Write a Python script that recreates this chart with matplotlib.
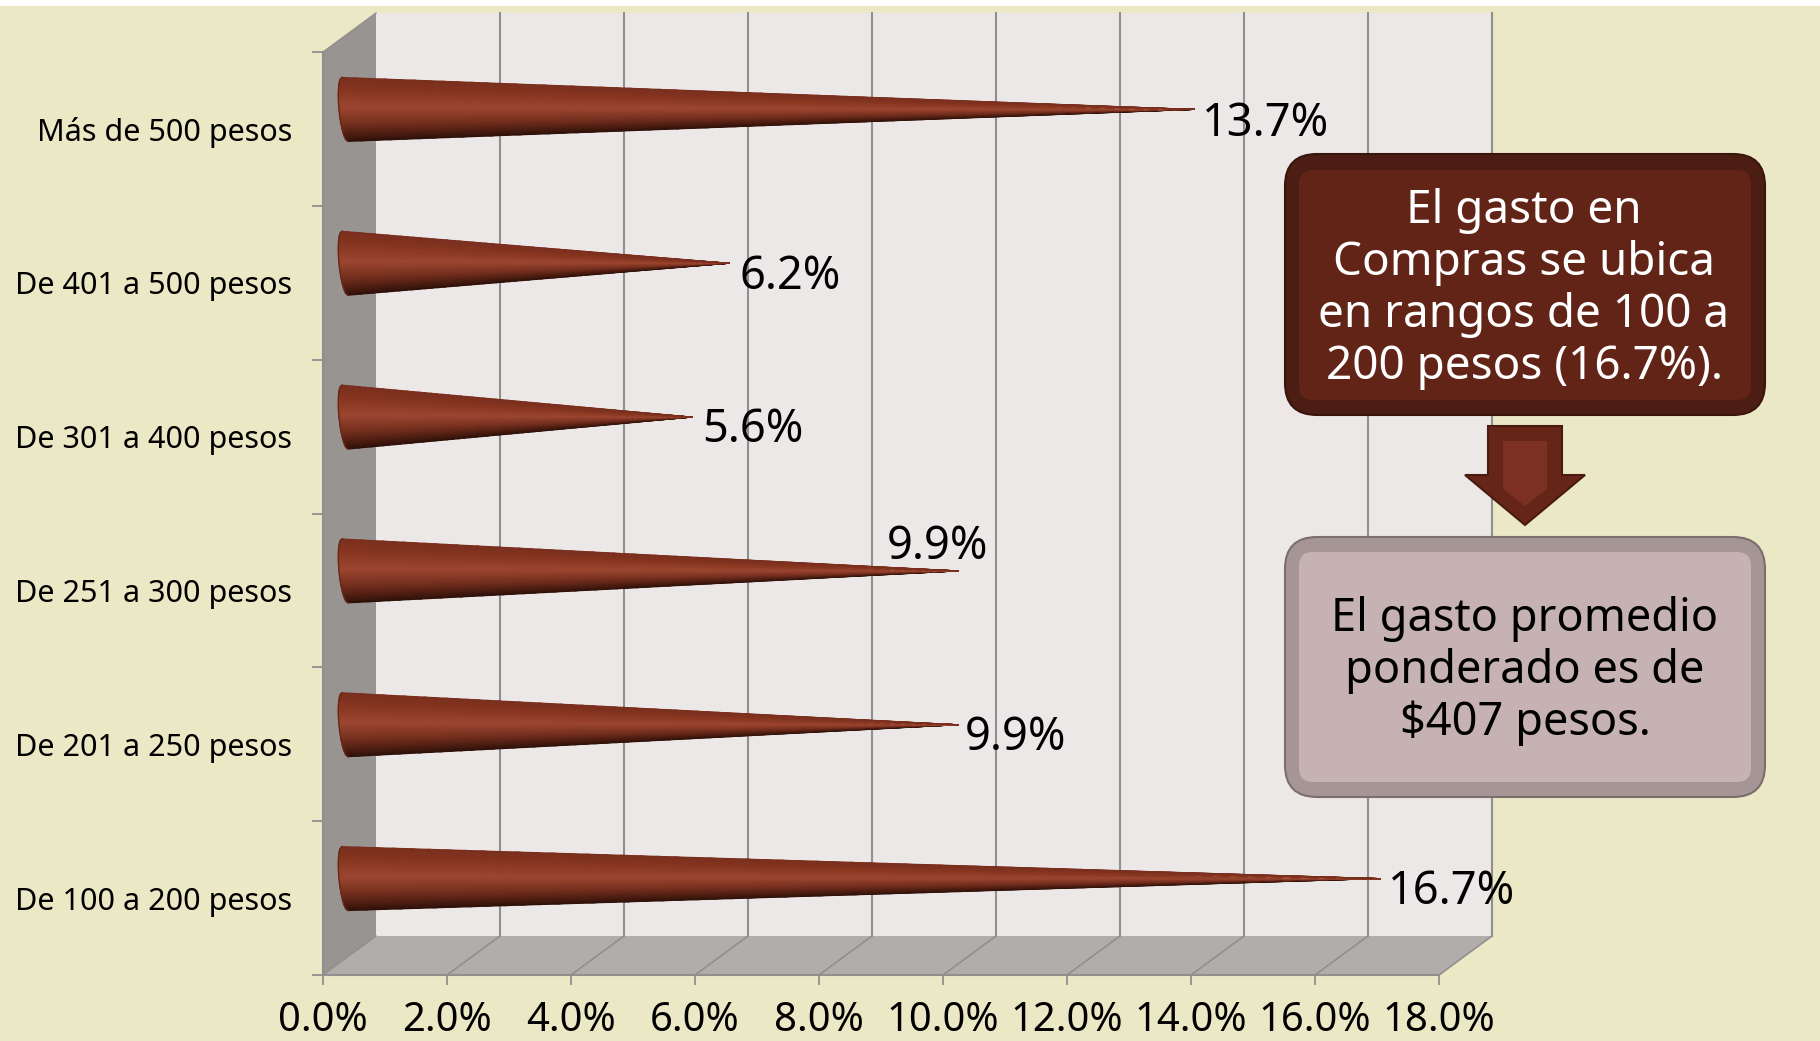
import numpy as np
import matplotlib
matplotlib.use('Agg')
import matplotlib.pyplot as plt
from matplotlib.colors import LinearSegmentedColormap
from matplotlib.patches import FancyBboxPatch, Polygon, Rectangle

categorias = ['De 100 a 200 pesos', 'De 201 a 250 pesos', 'De 251 a 300 pesos',
              'De 301 a 400 pesos', 'De 401 a 500 pesos', 'Más de 500 pesos']
valores = [16.7, 9.9, 9.9, 5.6, 6.2, 13.7]
ticks_x = [0, 2, 4, 6, 8, 10, 12, 14, 16, 18]

W, H = 1820, 1041
plt.rcParams['font.family'] = ['Noto Sans', 'DejaVu Sans']

# desplazamiento de cada etiqueta respecto a la punta del cono (pixeles)
offset_etiquetas = [(8, -13), (6, -13.5), (-72, 23.5), (10, -13), (10, -13.5), (8, -15)]

fig = plt.figure(figsize=(W / 100, H / 100), dpi=100, facecolor='white')


def caja_px(x0, y0, x1, y1):
    return [x0 / W, 1 - y1 / H, (x1 - x0) / W, (y1 - y0) / H]


# fondo
fondo = fig.add_axes([0, 0, 1, 1], zorder=0)
fondo.set_xlim(0, W)
fondo.set_ylim(H, 0)
fondo.axis('off')
fondo.add_patch(Rectangle((0, 6), W, H - 6, fc='#ebe8c5', ec='none'))

# ejes reales de la grafica: plano frontal del 3D
ax = fig.add_axes(caja_px(323, 52, 1439, 975), zorder=1)
ax.set_xlim(0, 18)
ax.set_ylim(-0.5, 5.5)
ax.patch.set_alpha(0)

px_x = 1116 / 18
px_y = 923 / 6
dx = 53 / px_x
dy = 39 / px_y
GRIS = '#8f8f8f'

ax.add_patch(Polygon([(dx, -0.5 + dy), (18 + dx, -0.5 + dy), (18 + dx, 5.5 + dy), (dx, 5.5 + dy)],
                     fc='#ece8e7', ec='none', clip_on=False, zorder=1))
ax.add_patch(Polygon([(0, -0.5), (dx, -0.5 + dy), (dx, 5.5 + dy), (0, 5.5)],
                     fc='#979492', ec='none', clip_on=False, zorder=1))
ax.add_patch(Polygon([(0, -0.5), (18, -0.5), (18 + dx, -0.5 + dy), (dx, -0.5 + dy)],
                     fc='#b1adab', ec='none', clip_on=False, zorder=1))
for t in ticks_x[1:]:
    ax.plot([t + dx, t + dx], [-0.5 + dy, 5.5 + dy], color=GRIS, lw=1.5, clip_on=False, zorder=2)
    ax.plot([t, t + dx], [-0.5, -0.5 + dy], color=GRIS, lw=1.2, clip_on=False, zorder=2)
ax.plot([0, dx], [-0.5, -0.5 + dy], color=GRIS, lw=1.0, clip_on=False, zorder=2)
ax.plot([0, dx], [5.5, 5.5 + dy], color=GRIS, lw=1.0, clip_on=False, zorder=2)

# conos
cmap = LinearSegmentedColormap.from_list('cono', [
    (0.0, '#7a2f1e'), (0.18, '#86351f'), (0.47, '#9c4631'), (0.72, '#77301f'),
    (0.90, '#4c1d11'), (1.0, '#2f110a')])
base_x = 22 / px_x
sube_y = 19.5 / px_y
radio = 32 / px_y
s = np.linspace(-1, 1, 41)
t = np.linspace(0, 1, 60)
for i, v in enumerate(valores):
    borde = base_x + (3 * (-s) - 6 * np.sqrt(1 - s ** 2)) / px_x
    X = np.outer(1 - t, borde) + np.outer(t, np.full_like(s, v + base_x))
    Y = i + sube_y + np.outer(1 - t, s * radio)
    C = np.tile((1 - s) / 2, (len(t), 1))
    ax.pcolormesh(X, Y, C, cmap=cmap, vmin=0, vmax=1, shading='gouraud', clip_on=False, zorder=3)
    ax.plot(borde, i + sube_y + s * radio, color='#6a2817', lw=1.0, clip_on=False, zorder=4)
    ax.annotate(f'{v:.1f}%', (v + base_x, i + sube_y), xytext=offset_etiquetas[i],
                textcoords='offset pixels', ha='left', va='center', fontsize=32.5,
                color='black', zorder=5, annotation_clip=False)

# ejes
ax.set_xticks(ticks_x)
ax.set_xticklabels([f'{t_:.1f}%' for t_ in ticks_x])
ax.set_yticks(np.arange(-0.5, 6, 1))
ax.set_yticklabels([])
ax.set_yticks(range(6), labels=categorias, minor=True)
ax.tick_params(axis='x', length=7.5, width=1.3, color=GRIS, pad=11, labelsize=28.8)
ax.tick_params(axis='y', which='major', length=8, width=1.3, color=GRIS)
ax.tick_params(axis='y', which='minor', length=0, pad=22, labelsize=22)
for lado in ['top', 'right']:
    ax.spines[lado].set_visible(False)
for lado in ['left', 'bottom']:
    ax.spines[lado].set_color(GRIS)
    ax.spines[lado].set_linewidth(1.5)
    ax.spines[lado].set_zorder(2.5)

# cuadros de texto
notas = fig.add_axes([0, 0, 1, 1], zorder=2)
notas.set_xlim(0, W)
notas.set_ylim(H, 0)
notas.axis('off')


def cuadro(x0, y0, x1, y1, color, r, ec='none'):
    notas.add_patch(FancyBboxPatch((x0 + r, y0 + r), x1 - x0 - 2 * r, y1 - y0 - 2 * r,
                                   boxstyle=f'round,pad={r},rounding_size={r}',
                                   fc=color, ec=ec, lw=1.5))


cuadro(1285, 154, 1765, 415, '#4c1e13', 32, '#3a150c')
cuadro(1299, 170, 1751, 400, '#622417', 14)
for k, linea in enumerate(['El gasto en', 'Compras se ubica', 'en rangos de 100 a', '200 pesos (16.7%).']):
    notas.text(1524, 210.5 + 52.2 * k, linea, color='white', fontsize=33, ha='center', va='center')

notas.add_patch(Polygon([(1488, 426), (1562, 426), (1562, 475), (1585, 475), (1525, 525),
                         (1465, 475), (1488, 475)], fc='#652618', ec='#4a1a10', lw=1.5))
notas.add_patch(Polygon([(1503, 441), (1547, 441), (1547, 489), (1525, 506), (1503, 489)],
                        fc='#7c3022', ec='none'))

cuadro(1285, 537, 1765, 797, '#a59595', 32, '#7d6e6e')
cuadro(1299, 552, 1751, 782, '#c6b2b2', 14)
for k, linea in enumerate(['El gasto promedio', 'ponderado es de', '$407 pesos.']):
    notas.text(1525, 618.5 + 52.2 * k, linea.replace('$', r'\$'), color='black', fontsize=32.5,
               ha='center', va='center')

plt.savefig('out.png', dpi=100)
